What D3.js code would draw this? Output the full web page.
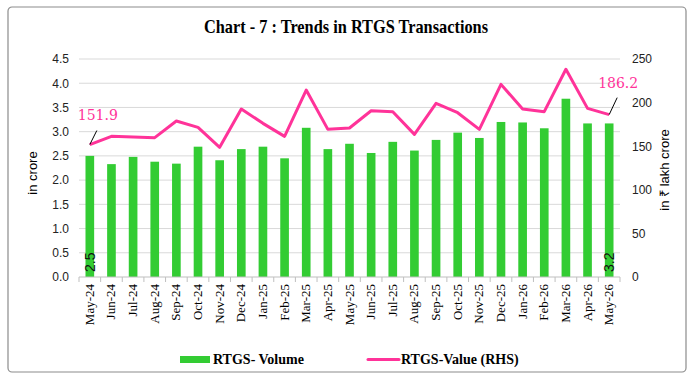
<!DOCTYPE html>
<html>
<head>
<meta charset="utf-8">
<script src="https://cdn.jsdelivr.net/npm/d3@7"></script>
<style>
  body { margin: 0; background: #fff; }
</style>
</head>
<body>
<div id="chart"></div>
<script>
const months = ["May-24","Jun-24","Jul-24","Aug-24","Sep-24","Oct-24","Nov-24","Dec-24","Jan-25","Feb-25","Mar-25","Apr-25","May-25","Jun-25","Jul-25","Aug-25","Sep-25","Oct-25","Nov-25","Dec-25","Jan-26","Feb-26","Mar-26","Apr-26","May-26"];
const volume = [2.5,2.33,2.48,2.38,2.34,2.69,2.41,2.64,2.69,2.45,3.08,2.64,2.75,2.56,2.79,2.61,2.83,2.98,2.87,3.2,3.19,3.07,3.68,3.17,3.17];
const value = [151.9,161.3,160.5,159.8,178.9,171.6,148.7,192.7,176.2,161.3,214.4,169.3,170.9,190.7,189.6,163.6,199.2,188.4,169.3,220.9,192.7,189.6,238.2,193.4,186.2];
const leftTicks = [0,0.5,1,1.5,2,2.5,3,3.5,4,4.5];
const rightTicks = [0,50,100,150,200,250];

const W = 693, H = 381;
const svg = d3.select("#chart").append("svg")
    .attr("width", W).attr("height", H);

// frame
svg.append("rect")
    .attr("x", 8).attr("y", 7).attr("width", 678).attr("height", 365)
    .attr("rx", 4).attr("fill", "#fff").attr("stroke", "#8c8c8c").attr("stroke-width", 1.2);

svg.append("text")
    .attr("x", 346).attr("y", 33)
    .attr("text-anchor", "middle")
    .attr("textLength", 284).attr("lengthAdjust", "spacingAndGlyphs")
    .style("font-family", "Liberation Serif").style("font-weight", "bold").style("font-size", "19px")
    .text("Chart - 7 : Trends in RTGS Transactions");

const x = d3.scaleBand().domain(months).range([79, 620]).paddingInner(0.6).paddingOuter(0.3);
const yL = d3.scaleLinear().domain([0, 4.5]).range([277, 59]);
const yR = d3.scaleLinear().domain([0, 250]).range([277, 59]);

// gridlines
svg.append("g").selectAll("line")
    .data(leftTicks.slice(1))
    .enter().append("line")
    .attr("x1", 79).attr("x2", 620)
    .attr("y1", d => yL(d)).attr("y2", d => yL(d))
    .attr("stroke", "#d9d9d9").attr("stroke-width", 1);

// left axis
const axL = svg.append("g").attr("transform", "translate(79,0)")
    .call(d3.axisLeft(yL).tickValues(leftTicks).tickFormat(d3.format(".1f")).tickSize(0).tickPadding(10));
axL.select(".domain").remove();
axL.selectAll("text").style("font-family", "Liberation Sans").style("font-size", "12px").attr("fill", "#222");

// right axis
const axR = svg.append("g").attr("transform", "translate(620,0)")
    .call(d3.axisRight(yR).tickValues(rightTicks).tickSize(0).tickPadding(12));
axR.select(".domain").remove();
axR.selectAll("text").style("font-family", "Liberation Sans").style("font-size", "12px").attr("fill", "#222");

// bars
svg.append("g").selectAll("rect")
    .data(months)
    .enter().append("rect")
    .attr("x", d => x(d))
    .attr("y", (d, i) => yL(volume[i]))
    .attr("width", x.bandwidth())
    .attr("height", (d, i) => yL(0) - yL(volume[i]))
    .attr("fill", "#33cc33");

// x axis
svg.append("line").attr("x1", 79).attr("x2", 620).attr("y1", yL(0)).attr("y2", yL(0))
    .attr("stroke", "#bfbfbf");
svg.append("g").selectAll("line")
    .data(d3.range(months.length + 1))
    .enter().append("line")
    .attr("x1", i => 79 + i * (541 / months.length)).attr("x2", i => 79 + i * (541 / months.length))
    .attr("y1", yL(0)).attr("y2", yL(0) + 5)
    .attr("stroke", "#bfbfbf");
svg.append("g").selectAll("text")
    .data(months)
    .enter().append("text")
    .attr("transform", d => `translate(${x(d) + x.bandwidth() / 2 + 4},${yL(0) + 7}) rotate(-90)`)
    .attr("text-anchor", "end")
    .style("font-family", "Liberation Serif").style("font-size", "13px")
    .text(d => d);

// line
const line = d3.line()
    .x((d, i) => x(months[i]) + x.bandwidth() / 2)
    .y(d => yR(d));
svg.append("path").datum(value)
    .attr("d", line)
    .attr("fill", "none").attr("stroke", "#ff3399").attr("stroke-width", 3).attr("stroke-linejoin", "round");

// bar data labels
[0, months.length - 1].forEach(i => {
    const cx = x(months[i]) + x.bandwidth() / 2;
    svg.append("text")
        .attr("transform", `translate(${cx + 5},${yL(0) - 5}) rotate(-90)`)
        .attr("text-anchor", "start")
        .style("font-family", "Liberation Sans").style("font-size", "14px").attr("fill", "#111")
        .text(volume[i].toFixed(1));
});

// line data labels with leaders
const annot = [
    { i: 0, dx: 7, dy: -14, tx: 8, ty: -25 },
    { i: months.length - 1, dx: 8, dy: -17, tx: 9, ty: -27 }
];
annot.forEach(a => {
    const cx = x(months[a.i]) + x.bandwidth() / 2;
    const cy = yR(value[a.i]);
    svg.append("line")
        .attr("x1", cx).attr("y1", cy).attr("x2", cx + a.dx).attr("y2", cy + a.dy)
        .attr("stroke", "#000").attr("stroke-width", 1);
    svg.append("text")
        .attr("x", cx + a.tx).attr("y", cy + a.ty)
        .attr("text-anchor", "middle")
        .style("font-family", "DejaVu Serif").style("font-size", "14px").attr("fill", "#ff3399")
        .text(value[a.i].toFixed(1));
});

// axis titles
svg.append("text")
    .attr("transform", "translate(37,173) rotate(-90)")
    .attr("text-anchor", "middle")
    .style("font-family", "Liberation Sans").style("font-size", "13px")
    .text("in crore");
svg.append("text")
    .attr("transform", "translate(669,170) rotate(-90)")
    .attr("text-anchor", "middle")
    .style("font-family", "Liberation Sans").style("font-size", "13px")
    .text("in ₹ lakh crore");

// legend
const lg = svg.append("g");
lg.append("rect").attr("x", 180).attr("y", 356).attr("width", 30).attr("height", 7).attr("fill", "#33cc33");
lg.append("text").attr("x", 213).attr("y", 364)
    .style("font-family", "Liberation Serif").style("font-weight", "bold").style("font-size", "14px")
    .text("RTGS- Volume");
lg.append("line").attr("x1", 368).attr("x2", 399).attr("y1", 359.5).attr("y2", 359.5)
    .attr("stroke", "#ff3399").attr("stroke-width", 3).attr("stroke-linecap", "round");
lg.append("text").attr("x", 401).attr("y", 364)
    .style("font-family", "Liberation Serif").style("font-weight", "bold").style("font-size", "14px")
    .text("RTGS-Value (RHS)");
</script>
</body>
</html>
